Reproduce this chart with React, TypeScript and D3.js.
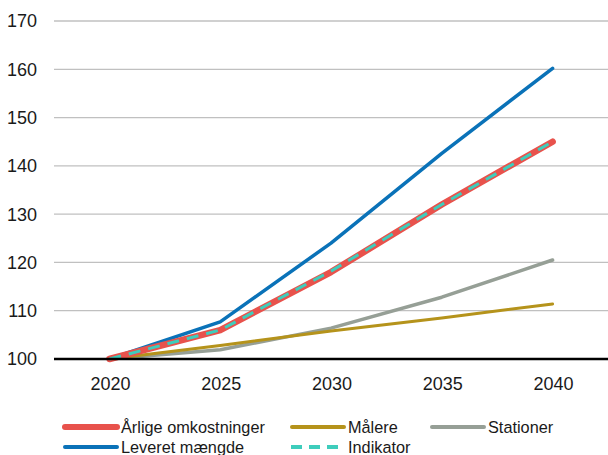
import * as d3 from 'd3';

const years = ['2020', '2025', '2030', '2035', '2040'];
const yTicks = [100, 110, 120, 130, 140, 150, 160, 170];

const aarligeOmkostninger = [100, 106, 118, 132, 145];
const maalere = [100, 102.8, 105.8, 108.5, 111.4];
const stationer = [100, 101.9, 106.4, 112.8, 120.5];
const leveretMaengde = [100, 107.7, 124, 142.6, 160.2];
const indikator = [100, 106, 118.2, 132, 145];

interface Series {
  name: string;
  values: number[];
  color: string;
  width: number;
  dash?: string;
}

// drawing order: back to front
const series: Series[] = [
  { name: 'Stationer', values: stationer, color: '#969f96', width: 3.5 },
  { name: 'Målere', values: maalere, color: '#b5931b', width: 3 },
  { name: 'Leveret mængde', values: leveretMaengde, color: '#0a72b8', width: 3.5 },
  { name: 'Årlige omkostninger', values: aarligeOmkostninger, color: '#e8524c', width: 6.5 },
  { name: 'Indikator', values: indikator, color: '#3ecdbc', width: 3, dash: '12,8' },
];

const legendOrder = ['Årlige omkostninger', 'Målere', 'Stationer', 'Leveret mængde', 'Indikator'];

export default function App() {
  const width = 608;
  const height = 455;
  const margin = { top: 21, right: 0, bottom: 96, left: 54 };
  const innerW = width - margin.left - margin.right;
  const innerH = height - margin.top - margin.bottom;

  const x = d3.scaleBand().domain(years).range([0, innerW]);
  const y = d3.scaleLinear().domain([100, 170]).range([innerH, 0]);
  const cx = (yr: string) => (x(yr) ?? 0) + x.bandwidth() / 2;

  const line = d3
    .line<number>()
    .x((_, i) => cx(years[i]))
    .y(d => y(d));

  const font = 'Helvetica, "Liberation Sans", Arial, sans-serif';
  const legendCols = [64, 291, 431];
  const legendRows = [427, 447];

  return (
    <svg
      width={width}
      height={height}
      style={{ position: 'absolute', left: 0, top: 0, fontFamily: font }}
    >
      <g transform={`translate(${margin.left},${margin.top})`}>
        {yTicks.filter(t => t !== 100).map(t => (
          <line key={t} x1={0} x2={innerW} y1={y(t)} y2={y(t)} stroke="#c0c0c0" strokeWidth={1.3} />
        ))}
        {yTicks.map(t => (
          <text key={t} x={-17} y={y(t)} dy="0.36em" textAnchor="end" fontSize={18} fill="#1a1a1a">
            {t}
          </text>
        ))}
        {years.map(yr => (
          <text key={yr} x={cx(yr) + 1} y={innerH + 31} textAnchor="middle" fontSize={18} fill="#1a1a1a">
            {yr}
          </text>
        ))}
        {series.map(s => (
          <path
            key={s.name}
            d={line(s.values) ?? ''}
            fill="none"
            stroke={s.color}
            strokeWidth={s.width}
            strokeDasharray={s.dash}
            strokeLinecap={s.dash ? 'butt' : 'round'}
            strokeLinejoin="round"
          />
        ))}
        <line x1={0} x2={innerW} y1={y(100)} y2={y(100)} stroke="#000" strokeWidth={2.5} />
      </g>
      {legendOrder.map((name, i) => {
        const s = series.find(d => d.name === name)!;
        const lx = legendCols[i % 3];
        const ly = legendRows[Math.floor(i / 3)];
        return (
          <g key={name} transform={`translate(${lx},${ly})`}>
            <line
              x1={s.dash ? 0 : 1}
              x2={s.dash ? 54 : 53}
              y1={0}
              y2={0}
              stroke={s.color}
              strokeWidth={s.width === 6.5 ? 6 : 4}
              strokeDasharray={s.dash ? '11,7' : undefined}
              strokeLinecap={s.dash ? 'butt' : 'round'}
            />
            <text x={57} y={0} dy="0.36em" fontSize={16.3} fill="#1a1a1a">
              {name}
            </text>
          </g>
        );
      })}
    </svg>
  );
}
